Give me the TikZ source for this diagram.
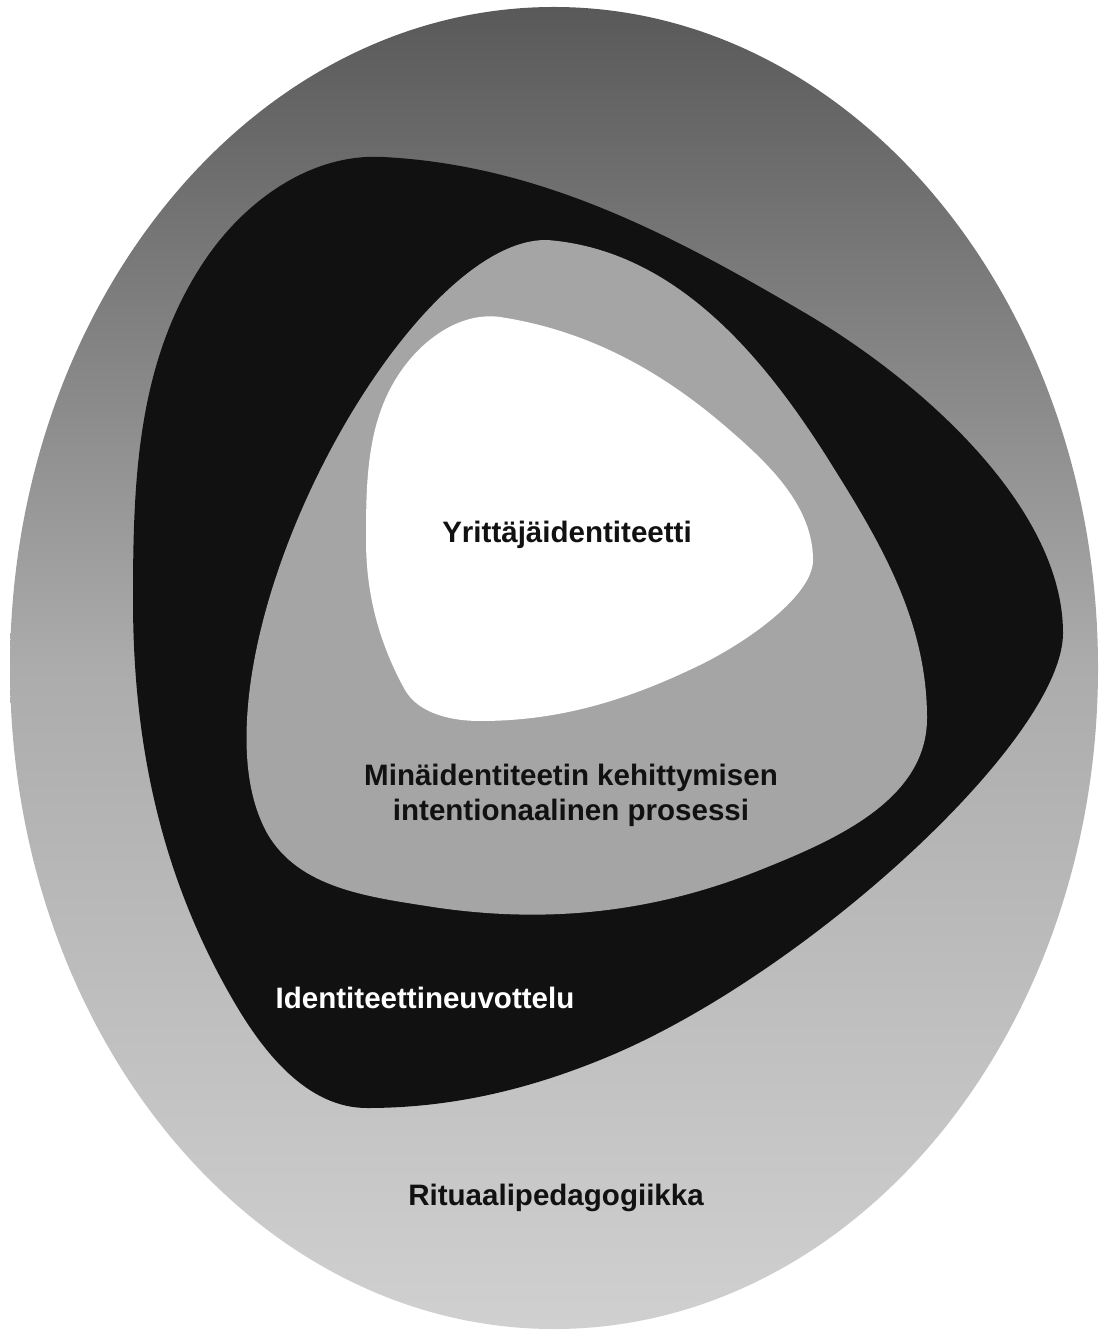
\documentclass[tikz,border=0pt]{standalone}
\usepackage{fontspec}
\setmainfont{Liberation Sans}
\usepackage{tikz}
\usetikzlibrary{positioning}

\definecolor{outertop}{RGB}{89,89,89}
\definecolor{outermid}{RGB}{172,172,172}
\definecolor{outerbot}{RGB}{208,208,208}
\definecolor{negblack}{RGB}{17,17,17}
\definecolor{mingray}{RGB}{165,165,165}

\tikzset{
    zonelabel/.style={font=\bfseries\fontsize{8.4}{10}\selectfont, text=negblack, align=center, inner sep=0pt},
}

\begin{document}
\begin{tikzpicture}[x=0.01cm, y=-0.01cm]
                        \useasboundingbox (0, 0) rectangle (1099, 1331);
                        % ritual pedagogy
                        \shade[top color=outertop, bottom color=outerbot, middle color=outermid]
                        (554, 668) ellipse [x radius=544, y radius=661];
                        % identity negotiation
                        \fill[negblack]
                        (383, 157) .. controls (538, 165) and (667, 232) .. (800, 310)
                        .. controls (926, 383) and (1063, 510) .. (1063, 633)
                        .. controls (1063, 740) and (800, 980) .. (600, 1060)
                        .. controls (526, 1090) and (450, 1108) .. (367, 1108)
                        .. controls (307, 1108) and (263, 1052) .. (233, 1000)
                        .. controls (161, 876) and (133, 744) .. (133, 600)
                        .. controls (133, 480) and (137, 363) .. (203, 263)
                        .. controls (243, 202) and (310, 153) .. (383, 157) -- cycle;
                        % intentional process
                        \fill[mingray]
                        (547, 240) .. controls (677, 250) and (766, 359) .. (833, 467)
                        .. controls (882, 545) and (927, 623) .. (927, 718)
                        .. controls (927, 800) and (835, 840) .. (760, 870)
                        .. controls (653, 913) and (546, 924) .. (433, 907)
                        .. controls (370, 897) and (299, 889) .. (267, 833)
                        .. controls (249, 800) and (245, 760) .. (247, 720)
                        .. controls (257, 520) and (430, 238) .. (547, 240) -- cycle;
                        % entrepreneur identity
                        \fill[white]
                        (500, 317) .. controls (591, 331) and (665, 373) .. (733, 433)
                        .. controls (772, 467) and (813, 508) .. (813, 560)
                        .. controls (813, 595) and (749, 641) .. (700, 665)
                        .. controls (628, 700) and (560, 721) .. (480, 721)
                        .. controls (452, 721) and (419, 714) .. (405, 690)
                        .. controls (379, 643) and (366, 594) .. (366, 540)
                        .. controls (366, 476) and (367, 413) .. (407, 363)
                        .. controls (429, 335) and (464, 312) .. (500, 317) -- cycle;
                        \node[zonelabel] (yrittaja) at (567, 535) {Yrittäjäidentiteetti};
                        \node[zonelabel] (minaid) at (571, 795) {Minäidentiteetin kehittymisen\\intentionaalinen prosessi};
                        \node[zonelabel, text=white] (neuvottelu) at (425, 998) {Identiteettineuvottelu};
                        \node[zonelabel] (rituaali) at (556, 1198) {Rituaalipedagogiikka};
                    \end{tikzpicture}
\end{document}
